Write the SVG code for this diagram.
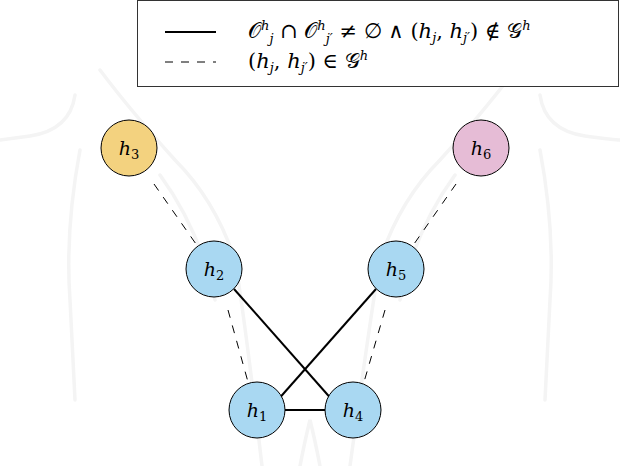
<svg xmlns="http://www.w3.org/2000/svg" width="620" height="466" viewBox="0 0 620 466">
<style>
.bg{fill:none;stroke:#f4f4f4;stroke-width:3.5;stroke-linecap:round}
.n circle{stroke:#000;stroke-width:1}
.n text,.lg text{font-family:"DejaVu Serif","Liberation Serif",serif;font-style:italic;font-size:19px;fill:#000}
.lg text{font-size:21px}
.n text{text-anchor:middle}
.s{stroke:#000;stroke-width:2;fill:none}
.d{stroke:#000;stroke-width:1;stroke-dasharray:8 8;fill:none}
.sb{font-size:13px}
</style>
<rect width="620" height="466" fill="#fff"/>
<g id="background">
<path class="bg" d="M100 70 Q130 110 175 160 Q215 200 235 260 Q245 320 262 466"/>
<path class="bg" d="M515 70 Q485 110 440 160 Q400 200 380 260 Q370 320 350 466"/>
<path class="bg" d="M75 95 Q70 130 30 136 Q0 140 0 140"/>
<path class="bg" d="M540 95 Q545 130 585 136 Q615 140 620 140"/>
<path class="bg" d="M80 150 Q65 230 70 300 L75 400"/>
<path class="bg" d="M540 150 Q555 230 550 300 L545 400"/>
<path class="bg" d="M160 175 Q200 230 215 300"/>
<path class="bg" d="M455 175 Q415 230 400 300"/>
<path class="bg" d="M300 466 Q305 440 310 420 Q315 440 320 466"/>
</g>
<g id="legend" class="lg">
<rect x="137.5" y="0.5" width="481" height="86" fill="#fff" stroke="#333" stroke-width="1"/>
<line class="s" x1="165" y1="32" x2="216" y2="32"/>
<line class="d" x1="165" y1="62" x2="216" y2="62"/>
<text x="248" y="38" style="font-style:normal">𝒪<tspan class="sb" dy="-8" font-style="italic">h</tspan><tspan class="sb" dy="13" font-style="italic">j</tspan><tspan dy="-5"> ∩ 𝒪</tspan><tspan class="sb" dy="-8" font-style="italic">h</tspan><tspan class="sb" dy="13" font-style="italic">j′</tspan><tspan dy="-5"> ≠ ∅  ∧  (</tspan><tspan font-style="italic">h</tspan><tspan class="sb" dy="4" font-style="italic">j</tspan><tspan dy="-4">, </tspan><tspan font-style="italic">h</tspan><tspan class="sb" dy="4" font-style="italic">j′</tspan><tspan dy="-4">) ∉ 𝒢</tspan><tspan class="sb" dy="-8" font-style="italic">h</tspan></text>
<text x="248" y="68" style="font-style:normal">(<tspan font-style="italic">h</tspan><tspan class="sb" dy="4" font-style="italic">j</tspan><tspan dy="-4">, </tspan><tspan font-style="italic">h</tspan><tspan class="sb" dy="4" font-style="italic">j′</tspan><tspan dy="-4">) ∈ 𝒢</tspan><tspan class="sb" dy="-8" font-style="italic">h</tspan></text>
</g>
<g id="connectors">
<line class="d" x1="154" y1="184" x2="196" y2="244"/>
<line class="d" x1="456" y1="184" x2="414" y2="244"/>
<line class="d" x1="228" y1="310" x2="248" y2="382"/>
<line class="d" x1="385" y1="310" x2="364" y2="382"/>
<line class="s" x1="234" y1="289" x2="334" y2="402"/>
<line class="s" x1="376" y1="289" x2="276" y2="402"/>
<line class="s" x1="285" y1="410" x2="325" y2="410"/>
</g>
<g id="h3" class="n"><circle cx="129" cy="148" r="28" fill="#f3d27f"/><text x="129" y="155">h<tspan class="sb" dy="4" font-style="normal">3</tspan></text></g>
<g id="h6" class="n"><circle cx="481" cy="148" r="28" fill="#e6bcd6"/><text x="481" y="155">h<tspan class="sb" dy="4" font-style="normal">6</tspan></text></g>
<g id="h2" class="n"><circle cx="214" cy="269" r="28" fill="#a9d8f2"/><text x="214" y="276">h<tspan class="sb" dy="4" font-style="normal">2</tspan></text></g>
<g id="h5" class="n"><circle cx="396" cy="269" r="28" fill="#a9d8f2"/><text x="396" y="276">h<tspan class="sb" dy="4" font-style="normal">5</tspan></text></g>
<g id="h1" class="n"><circle cx="257" cy="410" r="28" fill="#a9d8f2"/><text x="257" y="417">h<tspan class="sb" dy="4" font-style="normal">1</tspan></text></g>
<g id="h4" class="n"><circle cx="353" cy="410" r="28" fill="#a9d8f2"/><text x="353" y="417">h<tspan class="sb" dy="4" font-style="normal">4</tspan></text></g>
</svg>
